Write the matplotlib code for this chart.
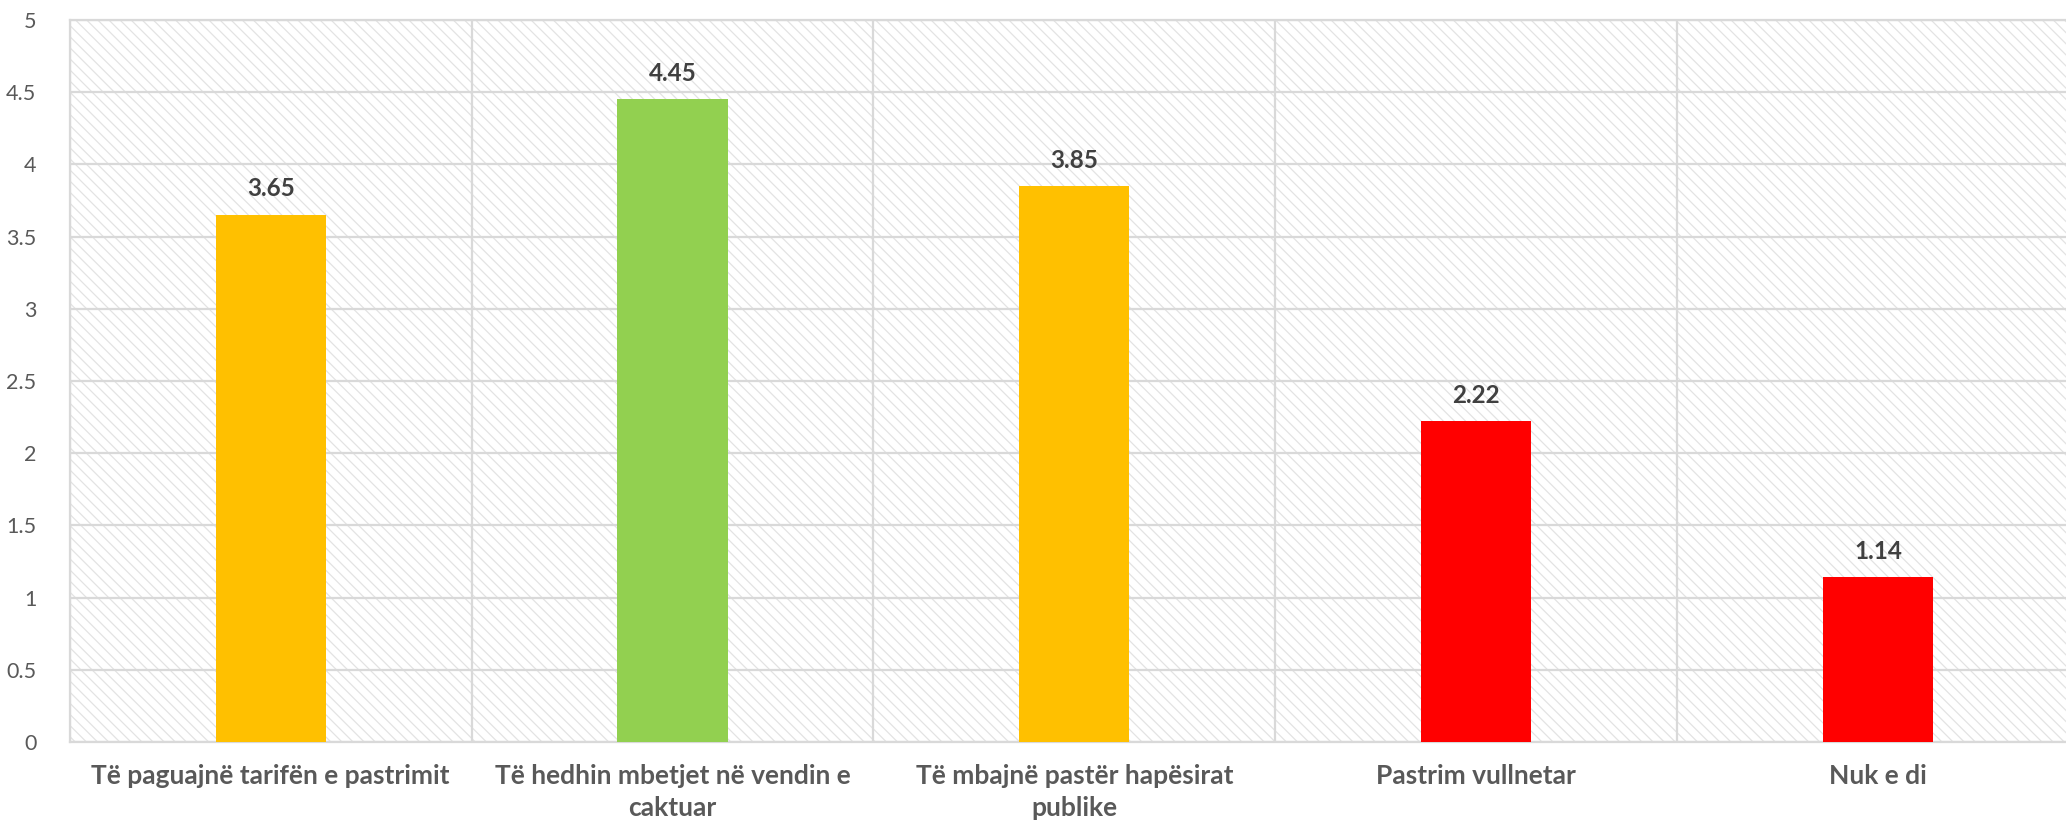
import matplotlib.pyplot as plt
from matplotlib.patches import Rectangle
from matplotlib.ticker import FixedLocator

CATEGORIES = [
    "Të paguajnë tarifën e pastrimit",
    "Të hedhin mbetjet në vendin e\ncaktuar",
    "Të mbajnë pastër hapësirat\npublike",
    "Pastrim vullnetar",
    "Nuk e di",
]
VALUES = [3.65, 4.45, 3.85, 2.22, 1.14]
BAR_COLORS = ["#FFC000", "#92D050", "#FFC000", "#FF0000", "#FF0000"]
Y_TICKS = [0, 0.5, 1, 1.5, 2, 2.5, 3, 3.5, 4, 4.5, 5]
Y_TICK_LABELS = ["0", "0.5", "1", "1.5", "2", "2.5", "3", "3.5", "4", "4.5", "5"]

GRID = "#D9D9D9"
TEXT = "#595959"
LABEL = "#404040"

plt.rcParams["font.family"] = ["Lato", "DejaVu Sans"]
plt.rcParams["hatch.linewidth"] = 0.9

fig = plt.figure(figsize=(20.66, 8.25), dpi=100)
ax = fig.add_axes([69.8 / 2066, 1 - 742 / 825, 2009 / 2066, 722 / 825])

# fine diagonal hatch behind the plot
ax.add_patch(Rectangle((0, 0), 1, 1, transform=ax.transAxes, facecolor="white",
                       edgecolor="#E3E3E3", hatch="\\\\\\", linewidth=0, zorder=0))

x = list(range(len(CATEGORIES)))
ax.bar(x, VALUES, width=0.274, color=BAR_COLORS, zorder=3)

for xi, v in zip(x, VALUES):
    ax.text(xi, v + 0.1, f"{v:.2f}", ha="center", va="bottom", fontsize=17.5,
            fontweight="bold", color=LABEL, zorder=4)

ax.set_xlim(-0.5, len(CATEGORIES) - 0.5)
ax.set_ylim(0, 5)
ax.set_yticks(Y_TICKS)
ax.set_yticklabels(Y_TICK_LABELS)
ax.set_xticks(x)
ax.set_xticklabels(CATEGORIES, fontsize=19, fontweight="bold", color=TEXT,
                   linespacing=1.4)
ax.xaxis.set_minor_locator(FixedLocator([i + 0.5 for i in range(-1, len(CATEGORIES))]))

ax.tick_params(axis="y", length=0, pad=24, labelsize=15.5, labelcolor=TEXT)
ax.tick_params(axis="x", which="both", length=0, pad=16)

ax.grid(axis="y", which="major", color=GRID, linewidth=1.6, zorder=1)
ax.grid(axis="x", which="minor", color=GRID, linewidth=1.6, zorder=1)
ax.grid(axis="x", which="major", visible=False)
ax.set_axisbelow(True)

for side in ["left", "top", "bottom", "right"]:
    ax.spines[side].set_color(GRID)
    ax.spines[side].set_linewidth(1.6)

fig.savefig("out.png", dpi=100, facecolor="white")
